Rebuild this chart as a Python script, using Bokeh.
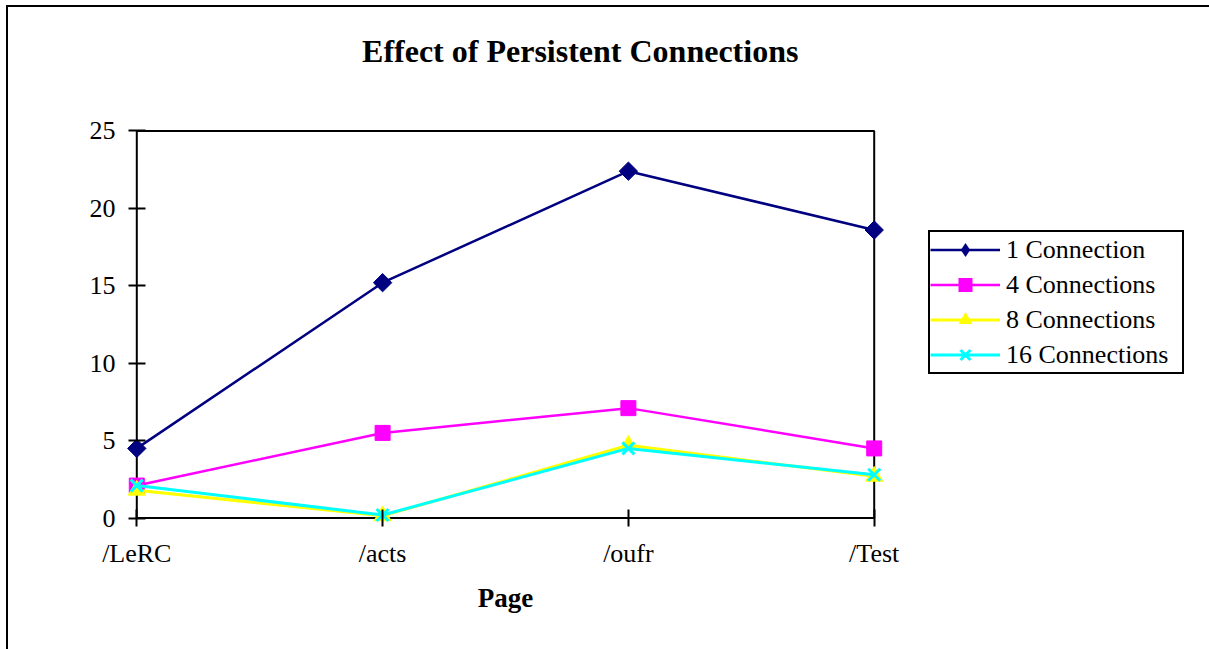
from bokeh.plotting import figure
from bokeh.models import Range1d, FixedTicker, Legend, LegendItem, BoxAnnotation, Label
from bokeh.embed import file_html
from bokeh.resources import INLINE
import math

pages = ["/LeRC", "/acts", "/oufr", "/Test"]
conn_1 = [4.5, 15.2, 22.4, 18.6]
conn_4 = [2.1, 5.5, 7.1, 4.5]
conn_8 = [1.8, 0.15, 4.7, 2.7]
conn_16 = [2.1, 0.2, 4.5, 2.8]
y_ticks = [0, 5, 10, 15, 20, 25]

xs = list(range(len(pages)))
FONT = "Liberation Serif"

p = figure(frame_width=762, frame_height=504,
           min_border_left=116, min_border_right=322,
           min_border_top=19, min_border_bottom=119,
           x_range=Range1d(-0.05, 3.05), y_range=Range1d(-0.8, 31.74),
           output_backend="svg", toolbar_location=None)
p.styles = {"margin-left": "6px", "margin-top": "5px",
            "border-left": "2px solid black", "border-top": "2px solid black",
            "border-right": "1px solid #808080"}
p.outline_line_color = None
p.xgrid.visible = False
p.ygrid.visible = False
p.background_fill_color = "white"
p.border_fill_color = "white"

# plot-area box (includes the two axis lines)
p.add_layout(BoxAnnotation(left=0, right=3, bottom=0, top=25,
                           fill_color=None, fill_alpha=0,
                           line_color="black", line_alpha=1, line_width=2,
                           level="underlay"))

for ax in (p.xaxis, p.yaxis):
    ax.axis_line_color = None
    ax.major_tick_line_color = "black"
    ax.major_tick_line_width = 2
    ax.major_tick_in = 21
    ax.major_tick_out = -4
    ax.minor_tick_line_color = None
    ax.major_label_text_font = FONT
    ax.major_label_text_font_size = "26px"
    ax.major_label_text_color = "black"

p.xaxis.ticker = FixedTicker(ticks=xs)
p.xaxis.major_label_overrides = {i: name for i, name in enumerate(pages)}
p.xaxis.major_label_standoff = 8
p.xaxis.axis_label = "Page"
p.xaxis.axis_label_text_font = FONT
p.xaxis.axis_label_text_font_style = "bold"
p.xaxis.axis_label_text_font_size = "27px"
p.xaxis.axis_label_text_color = "black"
p.xaxis.axis_label_standoff = 12
p.yaxis.ticker = FixedTicker(ticks=y_ticks)
p.yaxis.major_label_standoff = 9

# name, values, colour, plot marker, size, line width, angle, legend marker
series = [
    ("1 Connection", conn_1, "#000080", "square", 13, 2.5, math.pi / 4, "diamond"),
    ("4 Connections", conn_4, "#FF00FF", "square", 15, 2.5, 0, "square"),
    ("8 Connections", conn_8, "#FFFF00", "triangle", 17, 3, 0, "triangle"),
    ("16 Connections", conn_16, "#00FFFF", "x", 17, 3, 0, "x"),
]
items = []
for name, vals, color, marker, size, lw, ang, leg_marker in series:
    mlw = 3 if marker == "x" else 1
    l = p.line(xs, vals, line_color=color, line_width=lw)
    p.scatter(xs, vals, marker=marker, size=size, angle=ang, fill_color=color,
              line_color=color, line_width=mlw)
    # zero-size twin: only its legend swatch is seen
    s_leg = p.scatter(xs, vals, marker=leg_marker, size=0, fill_color=color,
                      line_color=color, line_width=mlw, line_alpha=(1 if marker == "x" else 0))
    items.append(LegendItem(label=name, renderers=[l, s_leg]))

legend = Legend(items=items, location=(42, 156), margin=0, padding=0,
                spacing=0, glyph_width=70, glyph_height=35, label_height=35,
                label_width=176, label_standoff=6, label_text_font=FONT,
                label_text_font_size="26px", label_text_color="black",
                border_line_color="black", border_line_alpha=1, border_line_width=2,
                background_fill_color="white", background_fill_alpha=1)
p.add_layout(legend, "right")

p.add_layout(Label(x=1.804, y=30.19, text="Effect of Persistent Connections",
                   text_align="center", text_baseline="alphabetic", text_font=FONT,
                   text_font_style="bold", text_font_size="32px", text_color="black"))

open("out.html", "w").write(file_html(p, INLINE))
